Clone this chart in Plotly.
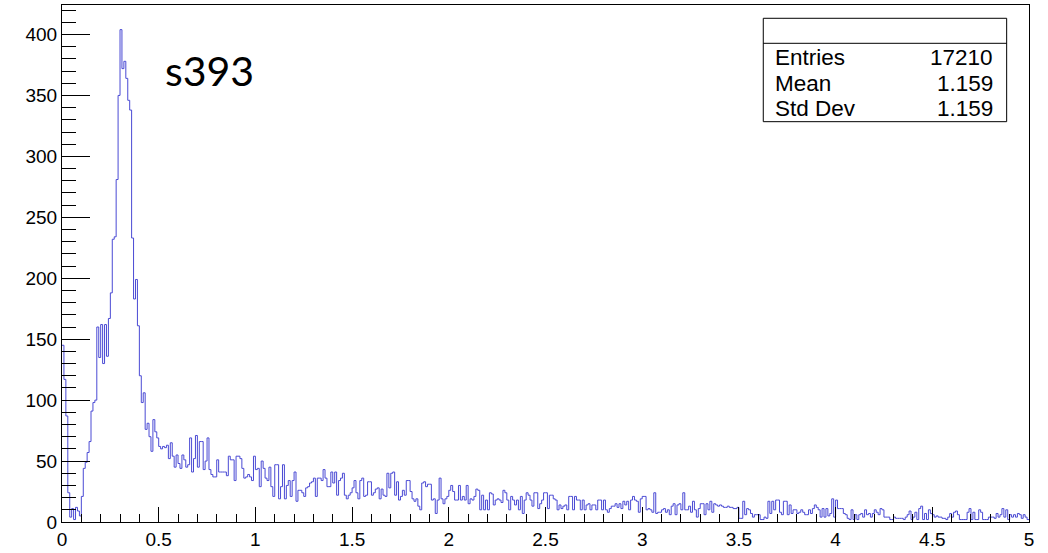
import plotly.graph_objects as go

# ---------------- data (bin contents, 500 bins of width 0.01 on [0, 5]) ----------------
bin_width = 0.01
x_min = 0.0

counts_000_050 = [145, 117, 87, 24, 4, 11, 2, 12, 9, 5,
                  21, 44, 49, 57, 66, 91, 98, 100, 160, 135,
                  162, 130, 162, 136, 167, 188, 232, 234, 281, 350,
                  404, 372, 378, 364, 346, 338, 233, 183, 199, 161,
                  120, 98, 106, 76, 81, 70, 58, 84, 74, 69]
counts_050_100 = [62, 60, 62, 61, 63, 52, 65, 54, 45, 55,
                  48, 44, 55, 51, 45, 47, 69, 41, 52, 71,
                  45, 66, 66, 43, 50, 69, 43, 39, 37, 37,
                  51, 41, 41, 41, 41, 38, 54, 51, 51, 34,
                  54, 54, 52, 44, 36, 37, 39, 37, 34, 54]
counts_100_150 = [43, 44, 29, 50, 44, 36, 34, 45, 29, 21,
                  47, 47, 19, 29, 47, 19, 30, 34, 21, 34,
                  41, 17, 26, 26, 24, 21, 28, 29, 32, 33,
                  36, 21, 36, 36, 34, 43, 36, 29, 29, 41,
                  32, 41, 22, 34, 36, 40, 22, 19, 22, 24]
counts_150_200 = [28, 34, 24, 19, 34, 36, 21, 22, 33, 33,
                  22, 24, 27, 28, 19, 27, 22, 21, 40, 28,
                  40, 41, 22, 33, 18, 21, 26, 22, 34, 34,
                  25, 19, 17, 19, 13, 10, 32, 33, 29, 31,
                  31, 18, 19, 7, 18, 36, 19, 15, 19, 21]
counts_200_250 = [26, 30, 25, 18, 18, 30, 18, 21, 18, 30,
                  15, 19, 18, 21, 27, 26, 10, 22, 10, 18,
                  10, 24, 23, 14, 18, 19, 18, 16, 26, 24,
                  18, 10, 21, 18, 14, 18, 10, 21, 7, 18,
                  24, 22, 18, 13, 24, 24, 11, 15, 18, 24]
counts_250_300 = [24, 11, 22, 22, 19, 18, 10, 14, 11, 13,
                  14, 10, 21, 21, 10, 21, 18, 18, 10, 18,
                  10, 14, 15, 10, 14, 14, 10, 18, 18, 10,
                  18, 10, 8, 11, 13, 13, 15, 12, 15, 11,
                  17, 14, 17, 10, 18, 21, 18, 17, 8, 19]
counts_300_350 = [21, 21, 10, 11, 10, 8, 24, 7, 8, 8,
                  10, 11, 8, 10, 6, 13, 15, 6, 14, 15,
                  10, 24, 10, 10, 13, 8, 17, 10, 4, 11,
                  15, 15, 6, 15, 10, 17, 8, 15, 14, 13,
                  14, 13, 12, 12, 13, 12, 12, 11, 11, 12]
counts_350_400 = [3, 3, 17, 6, 11, 10, 7, 4, 6, 6,
                  6, 2, 2, 4, 3, 17, 7, 17, 10, 18,
                  18, 8, 6, 17, 17, 6, 14, 7, 10, 10,
                  7, 8, 10, 8, 6, 6, 10, 7, 11, 14,
                  12, 10, 4, 11, 4, 11, 5, 7, 19, 4]
counts_400_450 = [18, 11, 11, 11, 7, 6, 3, 2, 10, 2,
                  6, 2, 6, 7, 4, 10, 6, 7, 4, 7,
                  10, 8, 6, 11, 10, 4, 4, 4, 2, 2,
                  4, 3, 3, 3, 3, 2, 4, 6, 9, 2,
                  4, 8, 2, 11, 13, 2, 7, 2, 10, 7]
counts_450_500 = [6, 4, 5, 4, 4, 3, 3, 2, 4, 7,
                  4, 8, 9, 6, 2, 2, 2, 2, 8, 11,
                  2, 8, 2, 2, 10, 8, 2, 2, 2, 4,
                  4, 4, 3, 7, 4, 6, 11, 4, 10, 2,
                  6, 4, 6, 4, 7, 6, 3, 6, 4, 2]

label_text = "s393"
stat_names = ["Entries", "Mean", "Std Dev"]
stat_values = ["17210", "1.159", "1.159"]

x_tick_vals = [0, 0.5, 1, 1.5, 2, 2.5, 3, 3.5, 4, 4.5, 5]
y_tick_vals = [0, 50, 100, 150, 200, 250, 300, 350, 400]

# ---------------- build histogram outline ----------------
counts = (counts_000_050 + counts_050_100 + counts_100_150 + counts_150_200 +
          counts_200_250 + counts_250_300 + counts_300_350 + counts_350_400 +
          counts_400_450 + counts_450_500)
n_bins = len(counts)
edges = [round(x_min + i * bin_width, 4) for i in range(n_bins + 1)]
ys = counts + [counts[-1]]

fig = go.Figure()
fig.add_trace(go.Scatter(
    x=edges, y=ys, mode="lines",
    line=dict(shape="hv", color="#4a4ad4", width=1),
    hoverinfo="skip", showlegend=False,
))

y_max = max(counts) * 1.05

axis_font = dict(family="Liberation Sans, Arial, sans-serif", size=19, color="black")

fig.update_xaxes(
    range=[edges[0], edges[-1]],
    tickvals=x_tick_vals,
    ticks="inside", ticklen=15, tickwidth=1, tickcolor="black",
    minor=dict(dtick=0.1, ticks="inside", ticklen=8, tickwidth=1, tickcolor="black"),
    showline=True, linecolor="black", linewidth=1, mirror=True,
    showgrid=False, zeroline=False, tickfont=axis_font,
)
fig.update_yaxes(
    range=[0, y_max],
    tickvals=y_tick_vals,
    ticks="inside", ticklen=28, tickwidth=1, tickcolor="black",
    minor=dict(dtick=10, ticks="inside", ticklen=14, tickwidth=1, tickcolor="black"),
    showline=True, linecolor="black", linewidth=1, mirror=True,
    showgrid=False, zeroline=False, tickfont=axis_font,
)

# stat box
bx0, bx1, by0, by1, bline = 0.7252, 0.9769, 0.7743, 0.9743, 0.9259
fig.add_shape(type="rect", xref="paper", yref="paper", x0=bx0, x1=bx1, y0=by0, y1=by1,
              line=dict(color="black", width=1), fillcolor="white", layer="above")
fig.add_shape(type="line", xref="paper", yref="paper", x0=bx0, x1=bx1, y0=bline, y1=bline,
              line=dict(color="black", width=1), layer="above")
row_y = [0.8975, 0.8478, 0.7990]
stat_font = dict(family="Liberation Sans, Arial, sans-serif", size=22.5, color="black")
for name, val, yy in zip(stat_names, stat_values, row_y):
    fig.add_annotation(x=0.7355, y=yy, xref="paper", yref="paper", text=name,
                       showarrow=False, xanchor="left", yanchor="middle", font=stat_font)
    fig.add_annotation(x=0.9650, y=yy, xref="paper", yref="paper", text=val,
                       showarrow=False, xanchor="right", yanchor="middle", font=stat_font)

fig.add_annotation(x=0.1045, y=0.874, xref="paper", yref="paper", text=label_text,
                   showarrow=False, xanchor="left", yanchor="middle",
                   font=dict(family="Lato, Open Sans, sans-serif", size=41, color="black"))

fig.update_layout(
    width=1048, height=553,
    margin=dict(l=62, r=19, t=5, b=31, autoexpand=False),
    paper_bgcolor="white", plot_bgcolor="white",
)

fig.write_html(
    "out.html",
    config={"displayModeBar": False},
    post_script="document.body.style.margin='0';document.body.style.padding='0';"
                "document.body.style.overflow='hidden';",
)
